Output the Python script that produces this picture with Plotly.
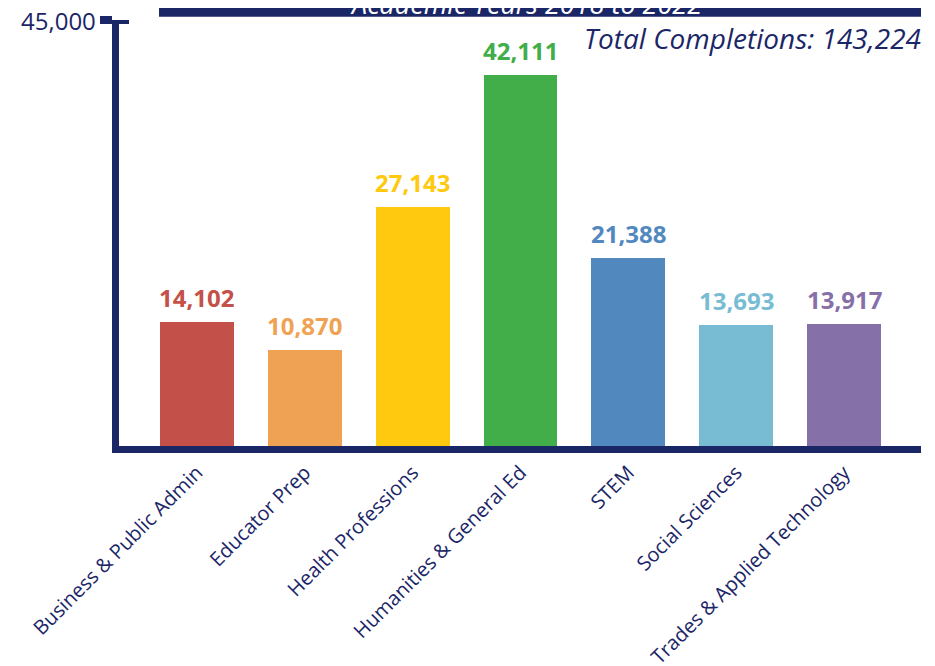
import plotly.graph_objects as go

categories = ["Business & Public Admin", "Educator Prep", "Health Professions",
              "Humanities & General Ed", "STEM", "Social Sciences",
              "Trades & Applied Technology"]
completions = [14102, 10870, 27143, 42111, 21388, 13693, 13917]
bar_colors = ["#C4504A", "#F0A254", "#FEC90F", "#41AE4A", "#5189BF", "#78BCD4", "#8670A8"]
y_top = 48400
y_tick_label = "45,000"
banner_text = "Academic Years 2018 to 2022"
total_text = "Total Completions: 143,224"

NAVY = "#1B2667"
FONT = "Open Sans"

fig = go.Figure()
fig.add_trace(go.Bar(
    x=list(range(len(categories))), y=completions,
    marker=dict(color=bar_colors, line=dict(width=0)),
    width=0.686, hoverinfo="skip",
))

for i, (v, c) in enumerate(zip(completions, bar_colors)):
    fig.add_annotation(x=i, y=v, xref="x", yref="y", text=f"{v:,}",
                       showarrow=False, yanchor="bottom", yshift=6,
                       font=dict(family=FONT, size=24, color=c, weight="bold"))

fig.add_annotation(xref="paper", yref="paper", x=1, y=1, xanchor="right",
                   yanchor="middle", yshift=-18, xshift=2, text=f"<i>{total_text}</i>",
                   showarrow=False, font=dict(family=FONT, size=28, color=NAVY))

# banner
fig.add_shape(type="rect", xref="paper", x0=0.0499, x1=1.0,
              yref="paper", ysizemode="pixel", yanchor=1, y0=3.3, y1=60,
              fillcolor=NAVY, line=dict(width=0), layer="above")
fig.add_annotation(xref="paper", yref="paper", x=0.5075, y=1, xanchor="center",
                   yanchor="middle", yshift=17, text=f"<i>{banner_text}</i>",
                   showarrow=False, font=dict(family=FONT, size=27, color="white"))

# top "T" tick crossing the axis, with its label
fig.add_shape(type="line", xref="paper", xsizemode="pixel", xanchor=0, x0=-19, x1=10,
              yref="y", y0=y_top, y1=y_top, line=dict(color=NAVY, width=8), layer="above")
fig.add_annotation(xref="paper", yref="y", x=0, y=y_top, xanchor="right", yanchor="middle",
                   xshift=-21, text=y_tick_label, showarrow=False,
                   font=dict(family=FONT, size=24, color=NAVY))

fig.update_layout(
    width=927, height=658,
    margin=dict(l=111, r=14, t=12, b=220, autoexpand=False),
    paper_bgcolor="white", plot_bgcolor="white",
    showlegend=False, bargap=0,
    font=dict(family=FONT, color=NAVY),
    xaxis=dict(
        range=[-0.723, 6.714], tickmode="array",
        tickvals=list(range(len(categories))), ticktext=categories,
        tickangle=-45, tickfont=dict(family=FONT, size=20, color=NAVY),
        showline=True, linecolor=NAVY, linewidth=7, ticks="",
        showgrid=False, zeroline=False, fixedrange=True, automargin=False,
    ),
    yaxis=dict(
        range=[0, y_top], tickmode="array", tickvals=[y_top],
        showticklabels=False,
        showline=True, linecolor=NAVY, linewidth=7,
        ticks="outside", ticklen=12, tickwidth=8, tickcolor=NAVY,
        showgrid=False, zeroline=False, fixedrange=True, automargin=False,
    ),
)

fig.write_html("out.html")
